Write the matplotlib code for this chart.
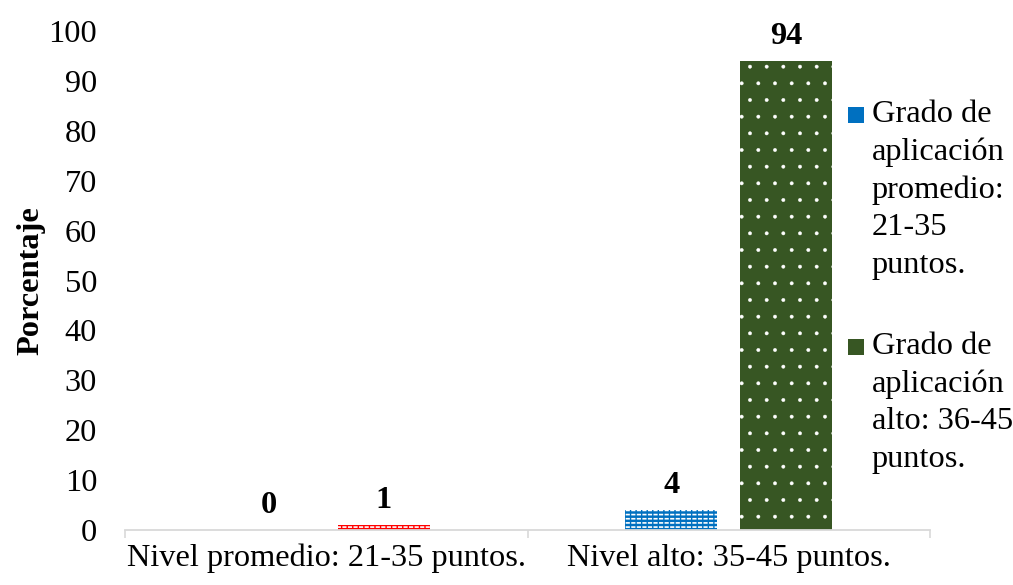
import numpy as np
import matplotlib
matplotlib.use("Agg")
import matplotlib.pyplot as plt
from matplotlib.patches import Rectangle

# Datos del gráfico
categorias = ["Nivel promedio: 21-35 puntos.", "Nivel alto: 35-45 puntos."]
series = ["Grado de\naplicación\npromedio:\n21-35\npuntos.",
          "Grado de\naplicación\nalto: 36-45\npuntos."]
promedio = [0, 4]
alto = [1, 94]

plt.rcParams['font.family'] = ['Liberation Serif', 'DejaVu Serif']
FS = 23.3

AZUL = '#0070C0'
VERDE = '#375623'
ROJO = '#FF0000'


def trama(color, h, lw):
    """kwargs de relleno: color de fondo con trama blanca"""
    plt.rcParams['hatch.linewidth'] = lw
    return dict(color=color, edgecolor='white', linewidth=0, hatch=h)


def rejilla(color):
    """trazos verticales del color de la serie encima de la trama"""
    plt.rcParams['hatch.linewidth'] = 1.0
    return dict(fill=False, edgecolor=color, linewidth=0, hatch='|||')


fig = plt.figure(figsize=(10.13, 5.85), dpi=100)
ax = fig.add_axes([0.1234, 0.094, 0.7947, 0.853])

x = np.arange(len(categorias))
ancho = 0.229
desp = 0.143

b1 = ax.bar(x - desp, promedio, ancho, **trama(AZUL, '----', 1.2))
ax.bar(x - desp, promedio, ancho, **rejilla(AZUL))

# el primer punto de la segunda serie va en rojo
b2 = []
b2 += ax.bar(x[0] + desp, alto[0], ancho, **trama(ROJO, '----', 1.2)).patches
ax.bar(x[0] + desp, alto[0], ancho, **rejilla(ROJO))
b2 += ax.bar(x[1] + desp, alto[1], ancho, **trama(VERDE, '.', 0.3)).patches

for barras in (b1, b2):
    for barra in barras:
        v = barra.get_height()
        ax.annotate(f"{v:g}", (barra.get_x() + barra.get_width() / 2, v),
                    xytext=(0, 7), textcoords='offset points',
                    ha='center', va='bottom', fontsize=FS, fontweight='bold')

ax.set_xlim(-0.5, 1.5)
ax.set_ylim(0, 100)
ax.set_yticks(np.arange(0, 101, 10))
ax.set_xticks(x)
ax.set_xticklabels(categorias, fontsize=FS)
ax.set_xticks([-0.5, 0.5, 1.5], minor=True)
ax.tick_params(axis='x', which='major', length=0, pad=10)
ax.tick_params(axis='x', which='minor', length=6, width=1.2, color='#d9d9d9')
ax.tick_params(axis='y', length=0, pad=20, labelsize=FS)
ax.set_ylabel("Porcentaje", fontsize=FS, fontweight='bold', labelpad=2)

for lado in ('top', 'right', 'left'):
    ax.spines[lado].set_visible(False)
ax.spines['bottom'].set_color('#d9d9d9')
ax.spines['bottom'].set_linewidth(1.3)

# leyenda a la derecha
W, H = fig.get_size_inches() * fig.dpi


def cuadro(y_centro, **kw):
    fig.patches.append(Rectangle((848 / W, 1 - (y_centro + 8) / H), 16 / W, 16 / H,
                                 transform=fig.transFigure, **kw))


cuadro(115, **trama(AZUL, '----', 1.2))
cuadro(115, **rejilla(AZUL))
cuadro(347, **trama(VERDE, '.', 0.3))

fig.text(872 / W, 1 - 100 / H, series[0], fontsize=FS, ha='left', va='top',
         linespacing=1.38)
fig.text(872 / W, 1 - 332 / H, series[1], fontsize=FS, ha='left', va='top',
         linespacing=1.38)

fig.savefig("out.png", dpi=100)
